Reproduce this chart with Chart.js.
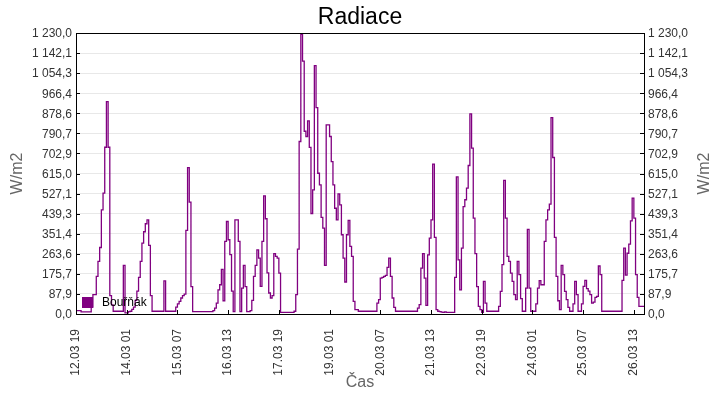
<!DOCTYPE html>
<html>
<head>
<meta charset="utf-8">
<title>Radiace</title>
<script src="https://cdn.jsdelivr.net/npm/chart.js@4.4.0/dist/chart.umd.min.js"></script>
<style>
  body { margin: 0; background: #fff; }
</style>
</head>
<body>
<canvas id="graf" width="720" height="400"></canvas>
<script>
var nazev = 'Radiace';
var stanice = 'Bouřňák';
var osaY = 'W/m2';
var osaX = 'Čas';

// popisky casove osy, kazdych 30 hodin od 12.03 19:00
var casPopisky = ['12.03 19', '14.03 01', '15.03 07', '16.03 13', '17.03 19', '19.03 01',
                  '20.03 07', '21.03 13', '22.03 19', '24.03 01', '25.03 07', '26.03 13'];
var yTicks = [0, 87.9, 175.7, 263.6, 351.4, 439.3, 527.1, 615.0, 702.9, 790.7, 878.6, 966.4, 1054.3, 1142.1, 1230.0];

// hodinove hodnoty radiace [W/m2]
var radiace = [
  15, 15, 15, 9, 9, 9, 9, 9, 9, 30,
  85, 85, 165, 230, 291, 456, 529, 730, 930, 730,
  80, 40, 12, 12, 12, 12, 12, 12, 213, 5,
  5, 10, 12, 20, 30, 60, 100, 160, 230, 310,
  360, 395, 412, 300, 80, 12, 12, 12, 12, 12,
  12, 12, 145, 12, 12, 12, 12, 12, 12, 30,
  44, 55, 70, 80, 87, 366, 641, 490, 120, 10,
  10, 10, 10, 10, 10, 10, 10, 10, 10, 10,
  10, 15, 26, 48, 106, 128, 195, 58, 318, 405,
  325, 260, 100, 10, 412, 412, 318, 10, 113, 213,
  120, 10, 10, 15, 60, 165, 213, 281, 245, 121,
  318, 517, 417, 180, 92, 70, 80, 264, 252, 245,
  179, 7, 7, 7, 7, 7, 7, 7, 7, 12,
  85, 284, 755, 1224, 1107, 800, 777, 845, 729, 440,
  543, 1087, 903, 616, 565, 423, 376, 213, 828, 828,
  777, 667, 565, 463, 412, 526, 478, 347, 245, 140,
  347, 410, 296, 252, 55, 19, 19, 12, 12, 12,
  12, 12, 12, 12, 12, 12, 12, 12, 48, 63,
  157, 160, 165, 169, 204, 245, 165, 70, 29, 12,
  12, 12, 12, 12, 12, 12, 12, 12, 12, 12,
  12, 12, 26, 41, 201, 264, 157, 38, 259, 332,
  412, 656, 335, 19, 12, 10, 8, 7, 9, 7,
  7, 7, 7, 7, 160, 600, 237, 106, 288, 470,
  500, 551, 650, 876, 726, 420, 264, 120, 33, 19,
  7, 143, 48, 12, 12, 12, 12, 12, 12, 12,
  33, 99, 216, 585, 420, 252, 230, 179, 143, 85,
  63, 230, 172, 67, 12, 12, 113, 370, 113, 12,
  12, 12, 44, 113, 146, 128, 128, 318, 412, 456,
  481, 860, 685, 335, 165, 58, 19, 213, 172, 99,
  63, 29, 12, 12, 44, 143, 85, 12, 12, 44,
  121, 147, 111, 100, 85, 48, 52, 73, 77, 210,
  172, 12, 12, 12, 12, 12, 12, 12, 12, 12,
  12, 12, 12, 147, 288, 170, 266, 306, 408, 507,
  420, 172, 73, 33, 33, 33, 33
];

var body = radiace.map(function (v, i) { return { x: i, y: v }; });

var pismo = '"Liberation Sans", Arial, sans-serif';
var barva = '#800080';

function cislo(v) {
  var s = v.toFixed(1).split('.');
  s[0] = s[0].replace(/\B(?=(\d{3})+(?!\d))/g, ' ');
  return s.join(',');
}

var doplnky = {
  id: 'doplnky',
  afterDraw: function (chart) {
    var ctx = chart.ctx, a = chart.chartArea;
    var l = Math.round(a.left), r = Math.round(a.right), t = Math.round(a.top), b = Math.round(a.bottom);
    ctx.save();
    ctx.strokeStyle = '#000';
    ctx.lineWidth = 1;
    ctx.strokeRect(l + 0.5, t + 0.5, r - l, b - t);
    // znacky na osach (dovnitr)
    ctx.beginPath();
    yTicks.forEach(function (v) {
      var y = Math.round(chart.scales.y.getPixelForValue(v)) + 0.5;
      ctx.moveTo(l, y); ctx.lineTo(l + 4, y);
      ctx.moveTo(r - 4, y); ctx.lineTo(r + 1, y);
    });
    casPopisky.forEach(function (c, i) {
      var x = Math.round(chart.scales.x.getPixelForValue(i * 30)) + 0.5;
      ctx.moveTo(x, b); ctx.lineTo(x, b - 4);
    });
    ctx.stroke();

    // nadpis
    ctx.fillStyle = '#000';
    ctx.textAlign = 'center';
    ctx.textBaseline = 'middle';
    ctx.font = '23px ' + pismo;
    ctx.fillText(nazev, 360, 18);

    // popisky os
    ctx.fillStyle = '#666';
    ctx.font = '16px ' + pismo;
    ctx.fillText(osaX, (l + r) / 2, 383);
    var sy = (t + b) / 2;
    [18, 705].forEach(function (x) {
      ctx.save();
      ctx.translate(x, sy);
      ctx.rotate(-Math.PI / 2);
      ctx.fillText(osaY, 0, 0);
      ctx.restore();
    });

    // legenda
    ctx.fillStyle = barva;
    ctx.fillRect(82, 297, 11, 11);
    ctx.fillStyle = '#000';
    ctx.textAlign = 'left';
    ctx.font = '12px ' + pismo;
    ctx.fillText(stanice, 102, 303);
    ctx.restore();
  }
};

var yOsa = function (pozice) {
  return {
    position: pozice,
    min: 0,
    max: 1230,
    afterBuildTicks: function (s) { s.ticks = yTicks.map(function (v) { return { value: v }; }); },
    afterFit: function (s) { s.width = 76; },
    ticks: {
      padding: 4,
      labelOffset: 1,
      color: '#333',
      font: { family: pismo, size: 12 },
      callback: function (v) { return cislo(v); }
    },
    grid: { color: '#e8e8e8', drawTicks: false, drawOnChartArea: pozice === 'left' },
    border: { display: false }
  };
};

new Chart(document.getElementById('graf'), {
  type: 'line',
  data: {
    datasets: [{
      label: stanice,
      data: body,
      borderColor: barva,
      backgroundColor: barva,
      borderWidth: 1.3,
      stepped: true,
      pointRadius: 0,
      fill: false
    }]
  },
  options: {
    responsive: false,
    animation: false,
    layout: { padding: { top: 33, left: 0, right: 0, bottom: 0 } },
    plugins: { legend: { display: false }, title: { display: false }, tooltip: { enabled: false } },
    scales: {
      x: {
        type: 'linear',
        min: 0,
        max: 336,
        afterBuildTicks: function (s) { s.ticks = casPopisky.map(function (c, i) { return { value: i * 30 }; }); },
        afterFit: function (s) { s.height = 86; },
        ticks: {
          autoSkip: false,
          minRotation: 90,
          maxRotation: 90,
          padding: 7,
          color: '#333',
          font: { family: pismo, size: 12 },
          callback: function (v, i) { return casPopisky[i]; }
        },
        grid: { display: false },
        border: { display: false }
      },
      y: yOsa('left'),
      y2: yOsa('right')
    }
  },
  plugins: [doplnky]
});
</script>
</body>
</html>
